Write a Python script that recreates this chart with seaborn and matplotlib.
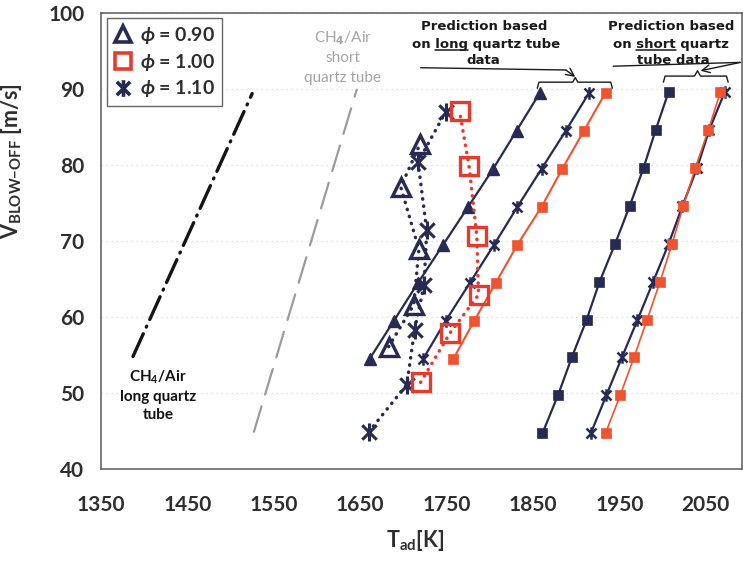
import matplotlib
matplotlib.use("Agg")
import matplotlib.pyplot as plt
from matplotlib.path import Path
from matplotlib.lines import Line2D
import seaborn as sns

# ---- data -------------------------------------------------------------
# predicted blow-off velocities (m/s)
v_pred_long = [54.5, 59.5, 64.5, 69.5, 74.5, 79.5, 84.5, 89.5]
v_pred_short = [44.7, 49.7, 54.7, 59.6, 64.6, 69.6, 74.6, 79.6, 84.6, 89.6]

# adiabatic flame temperature (K), prediction from long quartz tube data
t_long_090 = [1661, 1689, 1717, 1746, 1775, 1804, 1831, 1858]
t_long_100 = [1758, 1782, 1807, 1832, 1860, 1884, 1909, 1934]
t_long_110 = [1723, 1749, 1777, 1805, 1832, 1860, 1888, 1915]

# prediction from short quartz tube data
t_short_090 = [1861, 1879, 1895, 1912, 1927, 1945, 1962, 1978, 1992, 2007]
t_short_100 = [1934, 1951, 1967, 1982, 1997, 2011, 2024, 2038, 2053, 2067]
t_short_110 = [1917, 1935, 1953, 1971, 1989, 2007, 2023, 2040, 2054, 2072]

# measured blow-off points
t_exp_090 = [1683, 1712, 1718, 1697, 1719]
v_exp_090 = [56.1, 61.6, 68.9, 77.1, 82.7]
t_exp_100 = [1720, 1754, 1787, 1785, 1776, 1765]
v_exp_100 = [51.4, 57.9, 62.9, 70.7, 79.9, 87.1]
t_exp_110 = [1660, 1704, 1713, 1724, 1727, 1717, 1749]
v_exp_110 = [44.9, 51.1, 58.3, 64.2, 71.4, 80.4, 87.0]

# CH4/Air reference trends
t_ch4_long = [1387, 1525]
v_ch4_long = [54.8, 89.4]
t_ch4_short = [1527, 1646]
v_ch4_short = [44.9, 89.9]

x_ticks = [1350, 1450, 1550, 1650, 1750, 1850, 1950, 2050]
y_ticks = [40, 50, 60, 70, 80, 90, 100]
legend_labels = [r"$\phi$ = 0.90", r"$\phi$ = 1.00", r"$\phi$ = 1.10"]

# ---- style ------------------------------------------------------------
sns.set_theme(style="white")
plt.rcParams["font.family"] = ["Lato", "DejaVu Sans"]
plt.rcParams["font.weight"] = "bold"
plt.rcParams["mathtext.fontset"] = "custom"
plt.rcParams["mathtext.rm"] = "Lato:bold"
plt.rcParams["mathtext.bf"] = "Lato:bold"
plt.rcParams["mathtext.it"] = "Lato:bold:italic"

navy = "#272a52"
red_fill = "#ef5430"
red_open = "#e63b2c"
grey_line = "#9c9c9c"
text_dark = "#2e2e2e"

# asterisk-like marker: vertical bar crossed by an X
star = Path(
    [(0, -1), (0, 1), (-0.8, -0.8), (0.8, 0.8), (-0.8, 0.8), (0.8, -0.8)],
    [Path.MOVETO, Path.LINETO, Path.MOVETO, Path.LINETO, Path.MOVETO, Path.LINETO],
)

fig = plt.figure(figsize=(7.43, 5.63), dpi=100)
ax = fig.add_axes([101 / 743, 94 / 563, 641 / 743, 456 / 563])


def series(t, v, color, ls, lw, marker, ms, mfc, mew, z):
    sns.lineplot(x=t, y=v, ax=ax, sort=False, estimator=None, legend=False,
                 color=color, linestyle=ls, linewidth=lw, marker=marker,
                 markersize=ms, markerfacecolor=mfc, markeredgecolor=color,
                 markeredgewidth=mew, dash_capstyle="round", zorder=z)


# CH4/Air reference lines
series(t_ch4_long, v_ch4_long, "#151515", (0, (7.5, 2.2, 0.3, 2.2)), 2.4,
       None, 0, "none", 0, 2)
series(t_ch4_short, v_ch4_short, grey_line, (0, (12, 5.5)), 1.6,
       None, 0, "none", 0, 2)

# predictions, long tube data
series(t_long_090, v_pred_long, navy, "-", 1.6, "^", 8, navy, 1, 3)
series(t_long_110, v_pred_long, navy, "-", 1.6, star, 9, navy, 1.8, 3)
series(t_long_100, v_pred_long, red_fill, "-", 1.5, "s", 7.5, red_fill, 0.5, 3)

# predictions, short tube data
series(t_short_090, v_pred_short, navy, "-", 1.6, "s", 6.5, navy, 0.5, 3)
series(t_short_110, v_pred_short, navy, "-", 1.6, star, 9, navy, 1.8, 3)
series(t_short_100, v_pred_short, red_fill, "-", 1.2, "s", 7.5, red_fill, 0.5, 3)

# measurements
dots = (0, (0.1, 2.0))
series(t_exp_110, v_exp_110, navy, dots, 2.5, star, 13, navy, 2.2, 4)
series(t_exp_090, v_exp_090, navy, dots, 2.5, "^", 13, "none", 2.4, 4)
series(t_exp_100, v_exp_100, red_open, dots, 2.5, "s", 13, "none", 2.4, 4)

# ---- axes -------------------------------------------------------------
ax.set_xlim(1350, 2092)
ax.set_ylim(40, 100)
ax.set_xticks(x_ticks)
ax.set_yticks(y_ticks)
ax.tick_params(axis="x", length=0, pad=19, labelsize=15, colors=text_dark)
ax.tick_params(axis="y", length=3, width=0.8, pad=9, labelsize=15,
               colors=text_dark, direction="out", color="#888888")
for lab in ax.get_xticklabels() + ax.get_yticklabels():
    lab.set_fontweight("bold")
ax.yaxis.grid(True, color="#d6d6d6", linestyle=(0, (1, 3)), linewidth=0.9)
ax.xaxis.grid(False)
for side in ["left", "bottom", "top", "right"]:
    ax.spines[side].set_color("#5a5a5a")
    ax.spines[side].set_linewidth(1.1)

ax.set_xlabel(r"T$_{\mathbf{ad}}$[K]", fontsize=15.5, fontweight="bold",
              color=text_dark)
ax.xaxis.set_label_coords(0.49, -0.13)
ax.set_ylabel(r"V$_{\mathbf{BLOW{-}OFF}}$ [m/s]", fontsize=15.5,
              fontweight="bold", color=text_dark)
ax.yaxis.set_label_coords(-0.12, 0.675)

# ---- legend -----------------------------------------------------------
handles = [
    Line2D([], [], ls="none", marker="^", ms=12, mfc="none", mec=navy, mew=2.6),
    Line2D([], [], ls="none", marker="s", ms=11, mfc="none", mec=red_open, mew=2.6),
    Line2D([], [], ls="none", marker=star, ms=12, mec=navy, mew=2.6),
]
leg = ax.legend(handles, legend_labels, loc="upper left",
                bbox_to_anchor=(0.0094, 0.989), borderaxespad=0,
                prop={"family": ["Lato", "DejaVu Sans"], "weight": "bold",
                      "size": 14},
                frameon=True, fancybox=False, edgecolor="#404040",
                handlelength=0.9, handletextpad=0.45, labelspacing=0.3,
                borderpad=0.35)
leg.get_frame().set_linewidth(1.0)
for t in leg.get_texts():
    t.set_color(text_dark)

# ---- annotations ------------------------------------------------------
ch4_kw = dict(ha="center", va="center", fontsize=11, fontweight="bold",
              color="#111111")
ax.text(1416, 52.1, r"CH$_\mathbf{4}$/Air", **ch4_kw)
ax.text(1416, 49.5, "long quartz", **ch4_kw)
ax.text(1416, 47.1, "tube", **ch4_kw)

for y, s in zip([96.7, 94.1, 91.4],
                [r"CH$_{4}$/Air", "short", "quartz tube"]):
    ax.text(1630, y, s, ha="center", va="center", fontsize=11,
            fontweight="normal", color="#a3a3a3",
            math_fontfamily="dejavusans" if "$" in s else None)

renderer = fig.canvas.get_renderer()
note_kw = dict(fontsize=9.5, fontweight="bold", color="#1a1a1a",
               family=["DejaVu Sans"])


def line_with_underline(x, y, before, word, after):
    full = before + word + after
    t = ax.text(x, y, full, ha="center", va="baseline", **note_kw)
    bb = t.get_window_extent(renderer)
    prop = t.get_fontproperties()
    w_upto = renderer.get_text_width_height_descent(before + word, prop, ismath=False)[0]
    w_word = renderer.get_text_width_height_descent(word, prop, ismath=False)[0]
    x_end = bb.x0 + w_upto
    x_start = x_end - w_word
    base = ax.transData.transform((x, y))[1]
    inv = fig.transFigure.inverted()
    (fx0, fy), (fx1, _) = inv.transform([(x_start, base - 2.5), (x_end, base - 2.5)])
    fig.add_artist(Line2D([fx0, fx1], [fy, fy], color="#1a1a1a", lw=1.1))


ax.text(1794, 97.76, "Prediction based", ha="center", va="baseline", **note_kw)
line_with_underline(1796, 95.46, "on ", "long", " quartz tube")
ax.text(1792, 93.29, "data", ha="center", va="baseline", **note_kw)

ax.text(2010, 97.76, "Prediction based", ha="center", va="baseline", **note_kw)
line_with_underline(2010, 95.46, "on ", "short", " quartz")
ax.text(2012, 93.29, "tube data", ha="center", va="baseline", **note_kw)

arrow_kw = dict(arrowstyle="->", color="#1a1a1a", lw=1.0, mutation_scale=14,
                shrinkA=0, shrinkB=0)
# long-tube pointer
ax.plot([1720, 1888], [92.8, 92.5], color="#1a1a1a", lw=1.0, clip_on=False)
ax.annotate("", xy=(1899, 91.6), xytext=(1888, 92.5), arrowprops=arrow_kw)
# short-tube pointer
ax.plot([1943, 2090], [93.0, 93.5], color="#1a1a1a", lw=1.0, clip_on=False)
ax.annotate("", xy=(2044, 92.4), xytext=(2090, 93.5), arrowprops=arrow_kw)

# braces over the prediction groups
ax.plot([1855, 1857, 1896, 1899, 1902, 1940, 1942],
        [90.1, 90.9, 90.9, 91.5, 90.9, 90.9, 90.1], color="#1a1a1a", lw=1.0)
ax.plot([2001, 2003, 2037, 2040.5, 2044, 2074, 2076],
        [90.9, 91.7, 91.7, 92.4, 91.7, 91.7, 90.9], color="#1a1a1a", lw=1.0)

fig.savefig("out.png", dpi=100)
